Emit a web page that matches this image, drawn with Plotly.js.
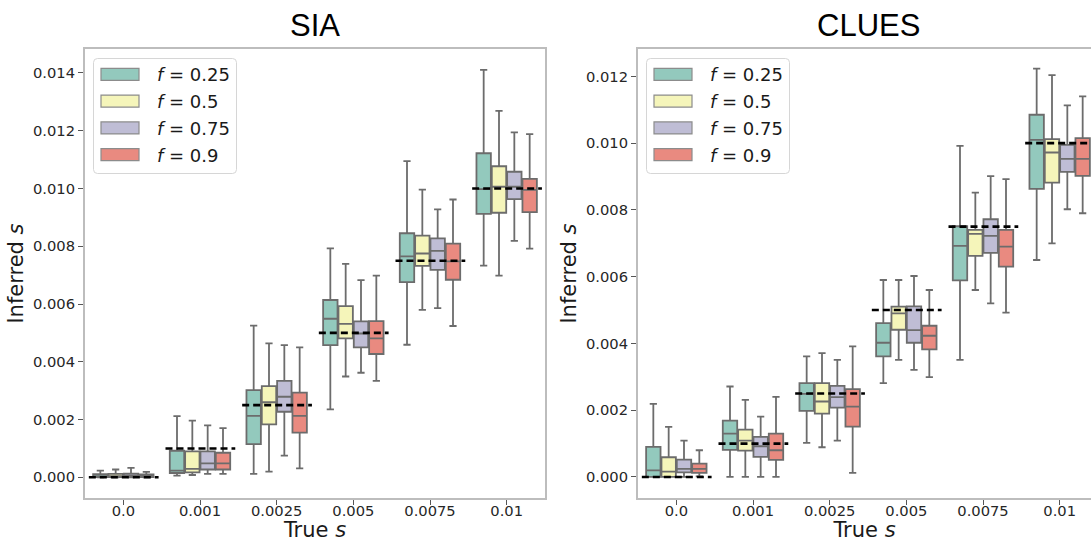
<!DOCTYPE html>
<html>
<head>
<meta charset="utf-8">
<script src="https://cdn.plot.ly/plotly-3.0.1.min.js"></script>
<style>
  html, body { margin: 0; padding: 0; overflow: hidden; background: #ffffff; }
  #chart { width: 1091px; height: 542px; }
</style>
</head>
<body>
<div id="chart"></div>
<script>
// ---------------- DATA ----------------
const categories = ['0.0', '0.001', '0.0025', '0.005', '0.0075', '0.01'];
const trueS = [0, 0.001, 0.0025, 0.005, 0.0075, 0.01];
const fLabels = ['0.25', '0.5', '0.75', '0.9'];
const yTicksSIA = [0, 0.002, 0.004, 0.006, 0.008, 0.010, 0.012, 0.014];
const yTicksCLUES = [0, 0.002, 0.004, 0.006, 0.008, 0.010, 0.012];

// SIA, f = 0.25
const siaLower25  = [0.00000, 0.00006, 0.00012, 0.00235, 0.00459, 0.00733];
const siaQ1_25    = [0.00001, 0.00015, 0.00115, 0.00458, 0.00676, 0.00912];
const siaMed25    = [0.00004, 0.00023, 0.00213, 0.00549, 0.00765, 0.00998];
const siaQ3_25    = [0.00011, 0.00092, 0.00302, 0.00614, 0.00845, 0.01122];
const siaUpper25  = [0.00023, 0.00212, 0.00525, 0.00793, 0.01095, 0.01411];
// SIA, f = 0.5
const siaLower50  = [0.00000, 0.00008, 0.00020, 0.00349, 0.00580, 0.00698];
const siaQ1_50    = [0.00001, 0.00017, 0.00183, 0.00481, 0.00732, 0.00916];
const siaMed50    = [0.00004, 0.00029, 0.00260, 0.00531, 0.00775, 0.01006];
const siaQ3_50    = [0.00012, 0.00090, 0.00316, 0.00593, 0.00837, 0.01077];
const siaUpper50  = [0.00027, 0.00196, 0.00464, 0.00739, 0.00996, 0.01269];
// SIA, f = 0.75
const siaLower75  = [0.00000, 0.00012, 0.00075, 0.00362, 0.00586, 0.00819];
const siaQ1_75    = [0.00002, 0.00027, 0.00227, 0.00450, 0.00718, 0.00963];
const siaMed75    = [0.00005, 0.00048, 0.00279, 0.00498, 0.00784, 0.01006];
const siaQ3_75    = [0.00013, 0.00090, 0.00334, 0.00540, 0.00827, 0.01058];
const siaUpper75  = [0.00033, 0.00180, 0.00458, 0.00683, 0.00928, 0.01194];
// SIA, f = 0.9
const siaLower90  = [0.00000, 0.00012, 0.00031, 0.00334, 0.00524, 0.00792];
const siaQ1_90    = [0.00001, 0.00027, 0.00155, 0.00427, 0.00684, 0.00918];
const siaMed90    = [0.00004, 0.00048, 0.00213, 0.00481, 0.00748, 0.00995];
const siaQ3_90    = [0.00010, 0.00085, 0.00293, 0.00541, 0.00809, 0.01033];
const siaUpper90  = [0.00019, 0.00170, 0.00450, 0.00698, 0.00962, 0.01188];

// CLUES, f = 0.25
const cluesLower25 = [0.00000, 0.00000, 0.00102, 0.00281, 0.00351, 0.00650];
const cluesQ1_25   = [0.00000, 0.00081, 0.00198, 0.00361, 0.00589, 0.00863];
const cluesMed25   = [0.00020, 0.00130, 0.00249, 0.00402, 0.00692, 0.01010];
const cluesQ3_25   = [0.00090, 0.00169, 0.00281, 0.00461, 0.00751, 0.01085];
const cluesUpper25 = [0.00219, 0.00271, 0.00361, 0.00590, 0.00992, 0.01223];
// CLUES, f = 0.5
const cluesLower50 = [0.00000, 0.00000, 0.00089, 0.00351, 0.00560, 0.00700];
const cluesQ1_50   = [0.00000, 0.00079, 0.00190, 0.00441, 0.00662, 0.00882];
const cluesMed50   = [0.00016, 0.00109, 0.00226, 0.00490, 0.00728, 0.00972];
const cluesQ3_50   = [0.00059, 0.00142, 0.00281, 0.00510, 0.00740, 0.01012];
const cluesUpper50 = [0.00150, 0.00231, 0.00371, 0.00590, 0.00852, 0.01204];
// CLUES, f = 0.75
const cluesLower75 = [0.00000, 0.00000, 0.00109, 0.00321, 0.00520, 0.00802];
const cluesQ1_75   = [0.00014, 0.00060, 0.00208, 0.00402, 0.00671, 0.00914];
const cluesMed75   = [0.00024, 0.00092, 0.00239, 0.00440, 0.00722, 0.00953];
const cluesQ3_75   = [0.00052, 0.00120, 0.00273, 0.00511, 0.00772, 0.00995];
const cluesUpper75 = [0.00109, 0.00181, 0.00351, 0.00602, 0.00901, 0.01113];
// CLUES, f = 0.9
const cluesLower90 = [0.00002, 0.00000, 0.00012, 0.00299, 0.00492, 0.00790];
const cluesQ1_90   = [0.00012, 0.00051, 0.00151, 0.00382, 0.00630, 0.00902];
const cluesMed90   = [0.00024, 0.00080, 0.00211, 0.00423, 0.00690, 0.00953];
const cluesQ3_90   = [0.00040, 0.00130, 0.00263, 0.00453, 0.00740, 0.01015];
const cluesUpper90 = [0.00080, 0.00240, 0.00391, 0.00560, 0.00892, 0.01140];

// ---------------- STYLE ----------------
const fillColors = ['#93c9bd', '#f5f5ba', '#bfbdd5', '#e98a80'];
const edgeColor = '#6c6c6c';
const tickFont = { family: 'DejaVu Sans, sans-serif', size: 14.7, color: '#262626' };
const titleFont = { family: 'DejaVu Sans, sans-serif', size: 21, color: '#1a1a1a' };

const W = 1091, H = 542;
const M = { l: 85, r: 0, t: 49, b: 44 };
const PW = W - M.l - M.r, PH = H - M.t - M.b;
const px2x = p => (p - M.l) / PW;
const px2y = p => (H - M.b - p) / PH;

const sia = [
  [siaLower25, siaQ1_25, siaMed25, siaQ3_25, siaUpper25],
  [siaLower50, siaQ1_50, siaMed50, siaQ3_50, siaUpper50],
  [siaLower75, siaQ1_75, siaMed75, siaQ3_75, siaUpper75],
  [siaLower90, siaQ1_90, siaMed90, siaQ3_90, siaUpper90]
];
const clues = [
  [cluesLower25, cluesQ1_25, cluesMed25, cluesQ3_25, cluesUpper25],
  [cluesLower50, cluesQ1_50, cluesMed50, cluesQ3_50, cluesUpper50],
  [cluesLower75, cluesQ1_75, cluesMed75, cluesQ3_75, cluesUpper75],
  [cluesLower90, cluesQ1_90, cluesMed90, cluesQ3_90, cluesUpper90]
];

const traces = [];
function addBoxes(set, xa, ya, grp) {
  set.forEach((s, k) => {
    traces.push({
      type: 'box',
      name: 'f = ' + fLabels[k],
      x: categories,
      lowerfence: s[0], q1: s[1], median: s[2], q3: s[3], upperfence: s[4],
      fillcolor: fillColors[k],
      line: { color: edgeColor, width: 1.8 },
      whiskerwidth: 0.5,
      boxpoints: false,
      showlegend: false,
      alignmentgroup: grp,
      offsetgroup: 'f' + k,
      xaxis: xa, yaxis: ya,
      hoverinfo: 'y'
    });
  });
}
addBoxes(sia, 'x', 'y', 'sia');
addBoxes(clues, 'x2', 'y2', 'clues');

// ---------------- SHAPES / ANNOTATIONS ----------------
const shapes = [];
const annotations = [];

// true-s reference lines
['x', 'x2'].forEach((xa, j) => {
  const ya = j === 0 ? 'y' : 'y2';
  trueS.forEach((v, i) => {
    shapes.push({
      type: 'line', xref: xa, yref: ya,
      x0: i - 0.45, x1: i + 0.46, y0: v, y1: v,
      line: { color: '#000000', width: 2.6, dash: '7px,4px' },
      layer: 'above'
    });
  });
});

// subplot panel geometry (pixels)
const leftPlotL = 85, leftPlotR = 545;
const rightPlotL = 638, rightPlotR = 1098; // right edge cut off by the picture

// titles
annotations.push({
  text: 'SIA', xref: 'paper', yref: 'paper',
  x: px2x((leftPlotL + leftPlotR) / 2), y: px2y(25),
  xanchor: 'center', yanchor: 'middle', showarrow: false,
  font: { family: 'Liberation Sans, Arial, sans-serif', size: 31, color: '#000000' }
});
annotations.push({
  text: 'CLUES', xref: 'paper', yref: 'paper',
  x: px2x((rightPlotL + rightPlotR) / 2), y: px2y(25),
  xanchor: 'center', yanchor: 'middle', showarrow: false,
  font: { family: 'Liberation Sans, Arial, sans-serif', size: 31, color: '#000000' }
});

// manual legends
function roundRectPath(x0, y0, x1, y1, r) {
  const X = px2x, Y = px2y;
  return 'M' + X(x0 + r) + ',' + Y(y0) +
    ' L' + X(x1 - r) + ',' + Y(y0) +
    ' Q' + X(x1) + ',' + Y(y0) + ' ' + X(x1) + ',' + Y(y0 + r) +
    ' L' + X(x1) + ',' + Y(y1 - r) +
    ' Q' + X(x1) + ',' + Y(y1) + ' ' + X(x1 - r) + ',' + Y(y1) +
    ' L' + X(x0 + r) + ',' + Y(y1) +
    ' Q' + X(x0) + ',' + Y(y1) + ' ' + X(x0) + ',' + Y(y1 - r) +
    ' L' + X(x0) + ',' + Y(y0 + r) +
    ' Q' + X(x0) + ',' + Y(y0) + ' ' + X(x0 + r) + ',' + Y(y0) + ' Z';
}
function addLegend(plotLeft) {
  const bx0 = plotLeft + 8.5, bx1 = bx0 + 143, by0 = 58.5, by1 = 173.5;
  shapes.push({
    type: 'path', xref: 'paper', yref: 'paper',
    path: roundRectPath(bx0, by0, bx1, by1, 4),
    fillcolor: 'rgba(255,255,255,0.85)',
    line: { color: '#d6d6d6', width: 1 },
    layer: 'above'
  });
  fLabels.forEach((lab, k) => {
    const cy = 74.3 + k * 26.8;
    shapes.push({
      type: 'rect', xref: 'paper', yref: 'paper',
      x0: px2x(bx0 + 7.5), x1: px2x(bx0 + 45.5),
      y0: px2y(cy - 6), y1: px2y(cy + 6),
      fillcolor: fillColors[k],
      line: { color: '#8c8c8c', width: 1.2 },
      layer: 'above'
    });
    annotations.push({
      text: '<i>f</i> = ' + lab, xref: 'paper', yref: 'paper',
      x: px2x(bx0 + 61), y: px2y(cy + 0.5),
      xanchor: 'left', yanchor: 'middle', showarrow: false,
      font: { family: 'DejaVu Sans, sans-serif', size: 18, color: '#1a1a1a' }
    });
  });
}
addLegend(leftPlotL);
addLegend(rightPlotL);

// ---------------- LAYOUT ----------------
const axisCommon = {
  showline: true, linecolor: '#bdbdbd', linewidth: 2,
  ticks: 'outside', ticklen: 5, tickwidth: 1, tickcolor: '#555555',
  tickfont: tickFont, showgrid: false, zeroline: false, automargin: false
};
const visibleRightCats = -0.5 + 6 * (W - rightPlotL) / (rightPlotR - rightPlotL);

const layout = {
  width: W, height: H,
  margin: M,
  paper_bgcolor: '#ffffff', plot_bgcolor: '#ffffff',
  showlegend: false,
  boxmode: 'group', boxgap: 0.2, boxgroupgap: 0.06,
  xaxis: Object.assign({}, axisCommon, {
    domain: [0, px2x(leftPlotR)], anchor: 'y', type: 'category',
    range: [-0.5, 5.5], mirror: true, ticklabelstandoff: -7,
    title: { text: 'True <i>s</i>', font: titleFont, standoff: 3 }
  }),
  yaxis: Object.assign({}, axisCommon, {
    domain: [0, 1], anchor: 'x',
    range: [-0.000716, 0.01483], mirror: true,
    tickvals: yTicksSIA, tickformat: '.3f',
    title: { text: 'Inferred <i>s</i>', font: titleFont, standoff: 4 }
  }),
  xaxis2: Object.assign({}, axisCommon, {
    domain: [px2x(rightPlotL), 1], anchor: 'y2', type: 'category',
    range: [-0.5, visibleRightCats], mirror: true, ticklabelstandoff: -7,
    title: { text: 'True <i>s</i>', font: titleFont, standoff: 3 }
  }),
  yaxis2: Object.assign({}, axisCommon, {
    domain: [0, 1], anchor: 'x2',
    range: [-0.00063, 0.01282], mirror: false,
    tickvals: yTicksCLUES, tickformat: '.3f',
    title: { text: 'Inferred <i>s</i>', font: titleFont, standoff: 4 }
  }),
  shapes: shapes,
  annotations: annotations
};

Plotly.newPlot('chart', traces, layout, { displayModeBar: false, responsive: false });
</script>
</body>
</html>
